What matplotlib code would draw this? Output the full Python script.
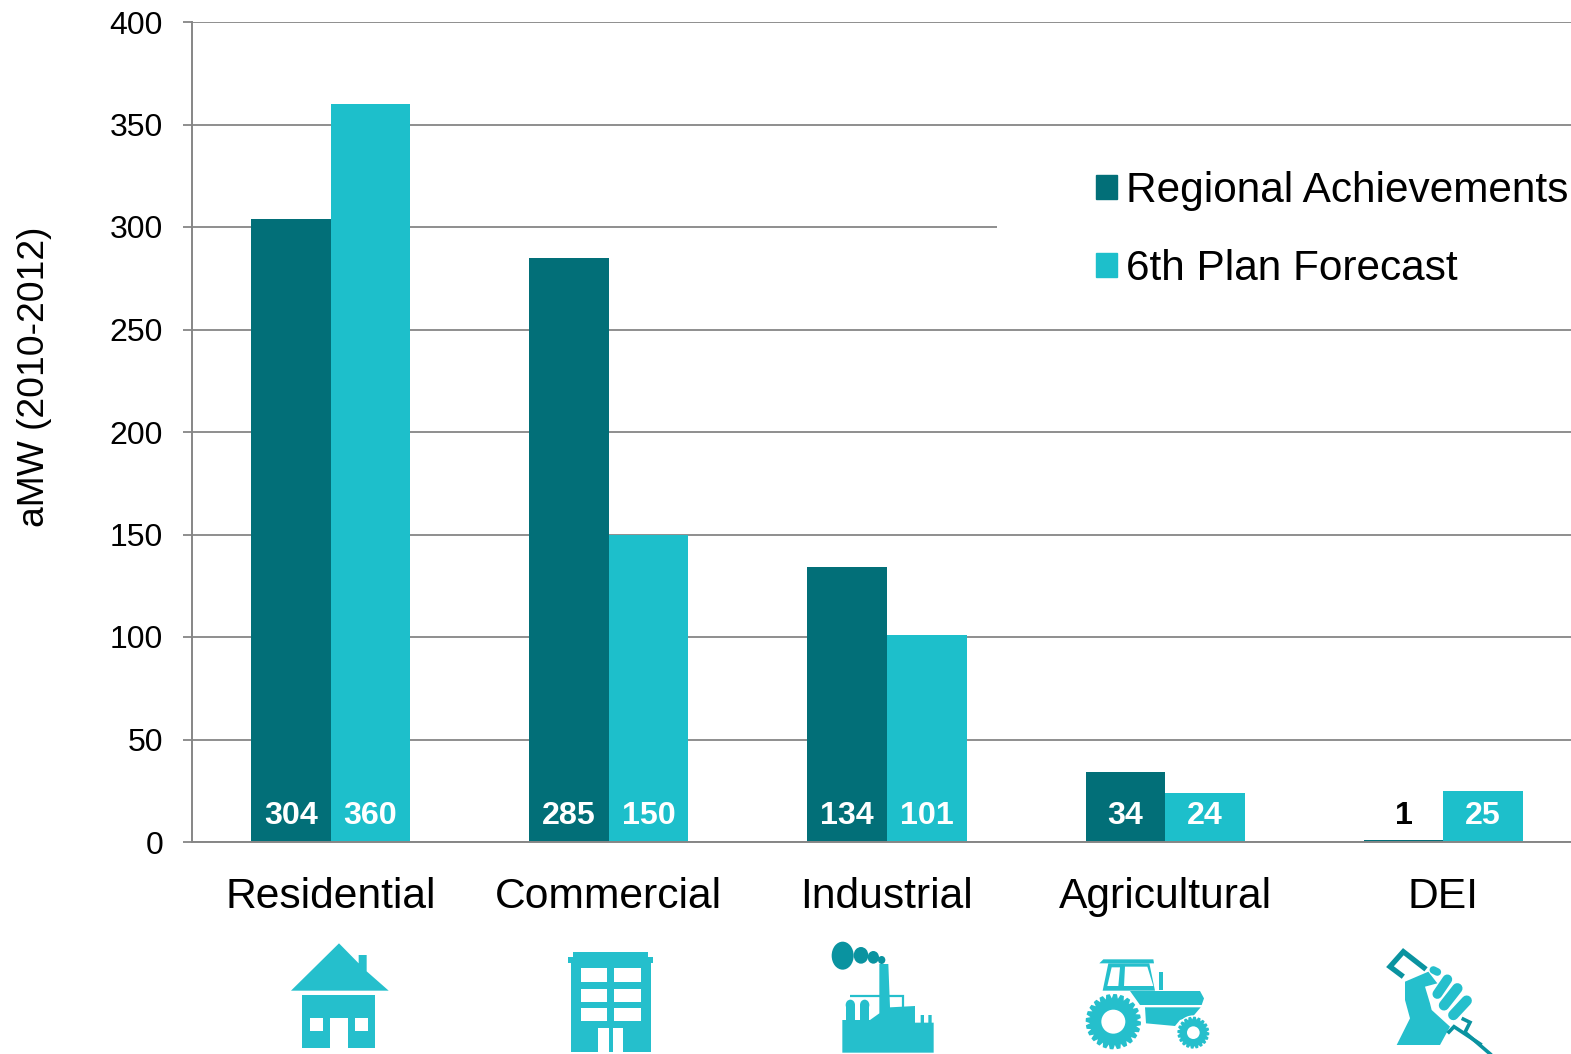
import numpy as np
import matplotlib
matplotlib.use("Agg")
import matplotlib.pyplot as plt
from matplotlib.patches import Polygon, Rectangle, Ellipse
from matplotlib.lines import Line2D

categories = ["Residential", "Commercial", "Industrial", "Agricultural", "DEI"]
regional = [304, 285, 134, 34, 1]
forecast = [360, 150, 101, 24, 25]
yticks = [0, 50, 100, 150, 200, 250, 300, 350, 400]
series_names = ["Regional Achievements", "6th Plan Forecast"]
ylabel = "aMW (2010-2012)"

DARK = "#026f78"
LIGHT = "#1dbfcb"
ICON = "#25bfcc"
ICON_DK = "#0a93a0"
GRID = "#868686"

plt.rcParams["font.family"] = ["Liberation Sans", "DejaVu Sans"]
W, H = 1571, 1054
fig = plt.figure(figsize=(W / 100, H / 100), dpi=100)

L, R, T, B = 191.5, 1571, 22, 842
ax = fig.add_axes([L / W, 1 - B / H, (R - L) / W, (B - T) / H])
cat_w = 278.2
ax.set_xlim(-0.5, -0.5 + (R - L) / cat_w)
ax.set_ylim(0, 400)
x = np.arange(len(categories))
bw = 0.286
ax.bar(x - bw / 2, regional, bw, color=DARK, zorder=3, label=series_names[0])
ax.bar(x + bw / 2, forecast, bw, color=LIGHT, zorder=3, label=series_names[1])

ax.set_yticks(yticks)
ax.set_xticks(x, categories)
ax.yaxis.grid(True, color=GRID, lw=1.3, zorder=0)
ax.set_axisbelow(True)
ax.tick_params(axis="y", length=6.5, width=1.3, color=GRID, pad=14, labelsize=23)
ax.tick_params(axis="x", length=0, pad=25, labelsize=30.7)
for s in ("top", "right"):
    ax.spines[s].set_visible(False)
for s in ("left", "bottom"):
    ax.spines[s].set_color(GRID)
    ax.spines[s].set_linewidth(1.4)
    ax.spines[s].set_zorder(4)
ax.set_ylabel(ylabel, fontsize=26.8)
ax.yaxis.set_label_coords((52 - L) / (R - L), 0.567)

for xs, vals in ((x - bw / 2, regional), (x + bw / 2, forecast)):
    for xi, v in zip(xs, vals):
        ax.annotate(str(v), (xi, 0), xytext=(0, 18.5), textcoords="offset points",
                    ha="center", va="center", fontsize=23.2, fontweight="bold",
                    color="black" if v < 5 else "white", zorder=5)

leg = ax.legend(handles=[Rectangle((0, 0), 1, 1, color=DARK), Rectangle((0, 0), 1, 1, color=LIGHT)],
                labels=series_names, fontsize=30.5, frameon=False, handlelength=0.5, handleheight=0.5,
                handletextpad=0.2, labelspacing=0.9, loc="upper left",
                bbox_to_anchor=((1096 - L) / (R - L), 1 - (171 - T) / (B - T)), borderaxespad=0, borderpad=0)

# overlay in pixel coordinates for the pictograms
ov = fig.add_axes([0, 0, 1, 1])
ov.set_xlim(0, W)
ov.set_ylim(H, 0)
ov.axis("off")
ov.patch.set_alpha(0)
ov.set_zorder(6)


def icon(origin):
    ox, oy = origin
    def t(pts):
        return [(ox + a / 3, oy + b / 3) for a, b in pts]
    return t

def poly(t, pts, c=ICON, z=1):
    ov.add_patch(Polygon(t(pts), closed=True, fc=c, ec="none", zorder=z))

def rect(t, x0, y0, x1, y1, c=ICON, z=1):
    poly(t, [(x0, y0), (x1, y0), (x1, y1), (x0, y1)], c, z)

def circ(t, cx, cy, rx, ry=None, c=ICON, z=1):
    (px, py), = t([(cx, cy)])
    ov.add_patch(Ellipse((px, py), 2 * rx / 3, 2 * (ry or rx) / 3, fc=c, ec="none", zorder=z))

def line(t, pts, lw, c=ICON, z=1, cap="round"):
    p = t(pts)
    ov.add_line(Line2D([a for a, _ in p], [b for _, b in p], color=c, lw=lw, zorder=z,
                       solid_capstyle=cap, solid_joinstyle="miter"))

def wheel(t, cx, cy, r_out, r_root, r_hole, teeth):
    n = teeth * 4
    pts = []
    for i in range(n):
        a = 2 * np.pi * i / n
        r = r_out if i % 4 in (0, 1, 2) else r_root
        pts.append((cx + r * np.cos(a), cy + r * np.sin(a)))
    poly(t, pts, ICON, 3)
    circ(t, cx, cy, r_hole, c="white", z=4)

# house
t = icon((260, 930))
poly(t, [(237, 40), (296, 100), (296, 75), (320, 75), (320, 124), (386, 182), (93, 182)])
rect(t, 127, 196, 346, 355)
rect(t, 210, 265, 263, 356, "white", 2)
rect(t, 150, 265, 188, 302, "white", 2)
rect(t, 285, 265, 323, 302, "white", 2)

# office building
rect(t, 940, 65, 1165, 82)
rect(t, 925, 80, 1178, 100)
rect(t, 932, 100, 1172, 365)
for y0, y1 in ((115, 155), (176, 215), (234, 273)):
    rect(t, 962, y0, 1040, y1, "white", 2)
    rect(t, 1063, y0, 1143, y1, "white", 2)
rect(t, 1015, 293, 1047, 365, "white", 2)
rect(t, 1058, 293, 1088, 365, "white", 2)

# factory
t = icon((810, 930))
for cx, cy, rx, ry in ((98, 77, 33, 42), (153, 76, 22, 25), (190, 82, 17, 19), (215, 90, 11, 12)):
    circ(t, cx, cy, rx, ry, ICON_DK)
poly(t, [(208, 102), (235, 102), (240, 232), (315, 228), (315, 278), (332, 278), (332, 255), (342, 255),
         (342, 278), (355, 278), (355, 255), (365, 255), (365, 278), (371, 278), (371, 368), (97, 368),
         (97, 270), (180, 270), (208, 250)])
for x0, x1 in ((107, 135), (150, 178)):
    rect(t, x0, 225, x1, 272)
    circ(t, (x0 + x1) / 2, 225, 14, 16)
line(t, [(120, 197), (280, 197), (280, 232)], 1.6, cap="butt")

# tractor
poly(t, [(868, 100), (880, 88), (1030, 88), (1032, 100)])
poly(t, [(895, 100), (1018, 100), (1035, 182), (878, 182)])
poly(t, [(905, 112), (930, 112), (925, 168), (892, 168)], "white", 2)
poly(t, [(945, 110), (1012, 110), (1030, 168), (942, 168)], "white", 2)
rect(t, 1047, 125, 1060, 180)
poly(t, [(960, 183), (1170, 183), (1182, 205), (1175, 225), (990, 225)])
poly(t, [(1005, 232), (1172, 232), (1150, 258), (1110, 270), (1095, 288), (1008, 280)])
circ(t, 910, 275, 87, c="white", z=2)
wheel(t, 910, 275, 83, 70, 36, 24)
circ(t, 1150, 308, 52, c="white", z=2)
wheel(t, 1150, 308, 48, 40, 19, 20)

# DEI fist and lightning bolt
t = icon((1350, 770))
line(t, [(228, 598), (160, 545), (120, 590), (160, 620)], 3.8, ICON_DK, 1, "butt")
poly(t, [(140, 825), (180, 745), (165, 690), (165, 635), (235, 605), (262, 640), (225, 650), (240, 700),
         (245, 720), (300, 770), (270, 825)], ICON, 2)
line(t, [(250, 600), (262, 606)], 5.5, ICON, 2)
line(t, [(292, 628), (262, 672)], 7, ICON, 2)
line(t, [(322, 655), (282, 706)], 7.5, ICON, 2)
line(t, [(350, 692), (310, 735)], 7.5, ICON, 2)
line(t, [(335, 745), (360, 757), (345, 787), (430, 860)], 2.6, ICON_DK, 3, "butt")
line(t, [(293, 790), (312, 770), (395, 825)], 2.6, ICON_DK, 3, "butt")

# white band breaking the 300 gridline beside the legend
ax.add_patch(Rectangle(((997 - L) / (R - L), 1 - (290 - T) / (B - T)), 1, (290 - 170) / (B - T),
                       transform=ax.transAxes, fc="white", ec="none", zorder=1))

fig.savefig("out.png", dpi=100, facecolor="white")
